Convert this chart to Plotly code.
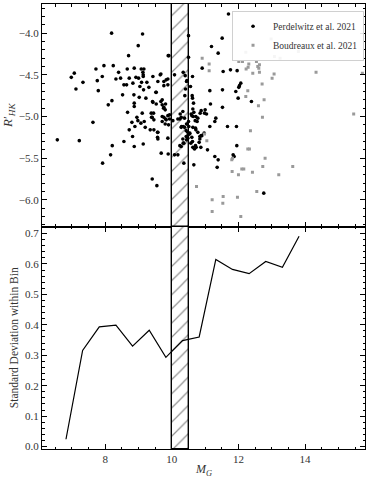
import plotly.graph_objects as go
from plotly.subplots import make_subplots

# Perdelwitz et al. 2021 (black)
perd_mg = [8.19, 9.12, 8.99, 8.70, 9.89, 7.72, 7.96, 8.24, 8.40, 8.66, 8.87, 9.08, 9.16, 9.13, 9.14, 9.14,
           6.98, 7.07, 7.12, 7.33, 7.76, 7.79, 7.91, 8.32, 8.46, 8.56, 8.64, 8.72, 8.92, 9.00, 8.83, 9.04,
           9.15, 9.09, 9.25, 9.31, 9.43, 9.52, 9.67, 9.76, 9.88, 9.76, 9.88,
           8.52, 8.86, 9.02, 9.22, 9.42, 9.71, 9.71, 9.76, 9.81, 8.20, 8.09, 7.63, 8.67, 8.87, 8.87,
           8.72, 8.80, 8.82, 8.89, 8.95, 8.98, 9.07, 9.17, 9.11, 9.20, 9.35, 9.39, 9.45, 9.57, 9.57,
           9.71, 9.71, 9.81, 9.90, 9.88, 8.56, 8.87, 9.14, 8.21, 8.16, 7.92, 9.68, 9.89, 6.56, 7.22,
           9.41, 9.55,
           9.91, 10.50, 10.50, 10.08, 10.34, 10.40, 10.44, 10.56, 10.62, 10.41, 10.39, 10.61, 10.62,
           10.65, 10.45, 10.33, 10.25, 9.93, 10.58, 10.63, 10.66, 10.88, 10.91,
           9.58, 9.65, 9.83, 9.53, 9.43, 9.53, 9.67, 9.75, 9.80, 9.38,
           10.24, 10.29, 10.34, 10.64, 10.70, 10.76, 10.71, 10.44, 10.51, 10.54, 10.49, 10.60, 10.44,
           10.34, 10.24, 10.62, 10.71, 10.84, 10.88, 10.97, 10.87, 11.07, 10.82, 10.36, 10.66,
           10.28, 10.36, 10.33, 10.43, 10.48, 10.53, 10.48, 10.43, 10.38, 10.46, 10.50, 10.28, 10.38,
           10.28, 10.18, 10.03, 9.93, 9.88, 9.83, 9.76, 9.80, 9.41, 9.46, 9.58, 9.46, 9.58,
           10.63, 10.72, 10.78, 10.90, 10.78, 10.72, 10.63, 10.73, 10.57, 10.60, 10.85, 10.98, 10.08,
           10.18, 10.68, 10.84,
           11.04, 11.14, 11.29, 11.32, 11.16, 11.14, 11.00, 11.19, 11.51, 11.39, 11.70, 11.54, 11.76,
           11.96, 12.07, 12.03, 12.01, 11.92, 11.99, 11.52, 11.52, 12.39, 11.67, 11.94, 11.95, 11.84,
           11.87, 11.29, 11.39, 11.36, 12.76]
perd_rhk = [-4.00, -4.01, -4.15, -4.27, -4.27, -4.43, -4.39, -4.39, -4.47, -4.43, -4.42, -4.43, -4.43, -4.47, -4.50, -4.52,
            -4.53, -4.48, -4.67, -4.59, -4.57, -4.69, -4.52, -4.55, -4.54, -4.62, -4.62, -4.54, -4.53, -4.54, -4.60, -4.64,
            -4.68, -4.59, -4.59, -4.65, -4.52, -4.71, -4.49, -4.58, -4.55, -4.63, -4.62,
            -4.74, -4.74, -4.77, -4.78, -4.82, -4.80, -4.86, -4.89, -4.85, -4.81, -4.86, -5.07, -4.95, -4.84, -4.88,
            -5.16, -5.07, -5.24, -5.12, -5.01, -5.05, -5.08, -5.06, -4.96, -5.13, -5.16, -5.01, -4.96, -5.19, -5.25,
            -5.00, -5.06, -5.03, -5.10, -5.26, -5.30, -5.36, -5.33, -5.35, -5.46, -5.56, -5.44, -5.45, -5.28, -5.29,
            -5.75, -5.83,
            -4.27, -4.03, -4.29, -4.50, -4.47, -4.51, -4.58, -4.64, -4.52, -4.67, -4.75, -4.75, -4.78,
            -4.84, -4.57, -4.94, -4.97, -4.98, -4.97, -4.91, -4.95, -4.93, -4.42,
            -4.58, -4.50, -4.56, -4.71, -4.83, -4.85, -4.82, -4.90, -4.92, -4.96,
            -5.03, -5.12, -5.12, -5.00, -5.05, -5.06, -5.14, -5.09, -5.12, -5.20, -5.22, -5.25, -5.28,
            -5.32, -5.35, -5.30, -5.35, -5.27, -5.23, -5.20, -5.37, -5.40, -5.31, -5.56, -5.58,
            -5.36, -5.32, -5.27, -5.24, -5.26, -5.21, -5.19, -5.17, -5.13, -5.09, -5.06, -5.13, -5.02,
            -5.01, -5.03, -5.05, -5.03, -4.99, -5.04, -5.01, -5.09, -5.01, -5.04, -5.19, -5.16, -5.27,
            -5.13, -5.16, -5.19, -5.23, -5.02, -5.00, -5.37, -5.37, -5.32, -4.99, -4.96, -4.96, -5.46,
            -5.46, -5.39, -5.24,
            -4.97, -5.12, -5.06, -5.02, -4.85, -4.69, -4.92, -4.16, -4.06, -4.24, -3.77, -4.46, -4.44,
            -4.45, -4.60, -4.63, -4.65, -4.70, -4.78, -4.68, -4.89, -4.82, -5.12, -5.12, -5.35, -5.46,
            -5.48, -5.48, -5.52, -5.61, -5.92]

# Boudreaux et al. 2021 (grey)
boud_mg = [10.91, 11.12, 11.12, 12.22, 12.01, 12.12, 12.31, 12.29, 12.23, 12.54, 12.63, 12.61, 12.63, 12.58,
           12.43, 13.08, 13.25, 13.80, 13.07, 13.01, 12.71, 14.33, 12.28, 12.22, 12.77, 12.60, 12.72, 15.46,
           12.36, 10.98, 11.05, 12.28, 12.33, 11.82, 11.80, 12.80, 12.73, 13.63, 11.81, 12.10, 12.16, 12.00,
           12.42, 13.21, 11.54, 11.53, 11.21, 11.21, 11.97, 12.55, 12.07, 12.98, 15.72, 10.74]
boud_rhk = [-4.30, -4.37, -4.45, -4.23, -4.34, -4.34, -4.37, -4.41, -4.43, -4.34, -4.38, -4.42, -4.47, -4.40,
            -4.48, -4.28, -4.30, -4.22, -4.49, -4.54, -4.61, -4.47, -4.69, -4.76, -4.80, -4.87, -5.01, -4.97,
            -5.17, -5.21, -5.29, -5.39, -5.39, -5.50, -5.52, -5.50, -5.60, -5.60, -5.66, -5.63, -5.63, -5.70,
            -5.67, -5.70, -5.96, -6.04, -6.00, -6.14, -5.97, -5.90, -6.20, -4.07, -4.48, -5.84]

# Standard deviation within bins
bin_mg = [6.82, 7.32, 7.82, 8.32, 8.82, 9.32, 9.82, 10.32, 10.82, 11.32, 11.82, 12.32, 12.82, 13.32, 13.82]
bin_std = [0.024, 0.316, 0.393, 0.399, 0.330, 0.382, 0.293, 0.348, 0.360, 0.615, 0.582, 0.568, 0.608, 0.589, 0.691]

band_lo, band_hi = 10.0, 10.5
xr = [6.1, 15.8]
y1r = [-6.32, -3.65]
y2r = [-0.008, 0.723]

FONT = "Liberation Serif"

fig = make_subplots(rows=2, cols=1, shared_xaxes=True, vertical_spacing=0.0)

for row, yr in ((1, y1r), (2, y2r)):
    fig.add_trace(go.Bar(
        x=[(band_lo + band_hi) / 2], y=[yr[1] - yr[0]], base=[yr[0]], width=[band_hi - band_lo],
        marker=dict(color="white",
                    pattern=dict(shape="/", fgcolor="#222222", size=10, solidity=0.12),
                    line=dict(color="black", width=1.4)),
        showlegend=False, hoverinfo="skip"), row=row, col=1)

fig.add_trace(go.Scatter(x=perd_mg, y=perd_rhk, mode="markers", name="Perdelwitz et al. 2021",
                         marker=dict(color="black", size=3.6, symbol="circle")), row=1, col=1)
fig.add_trace(go.Scatter(x=boud_mg, y=boud_rhk, mode="markers", name="Boudreaux et al. 2021",
                         marker=dict(color="#9a9a9a", size=3, symbol="square")), row=1, col=1)
fig.add_trace(go.Scatter(x=bin_mg, y=bin_std, mode="lines", showlegend=False,
                         line=dict(color="black", width=1.2)), row=2, col=1)

axis_common = dict(showline=True, linecolor="black", linewidth=1, mirror="allticks",
                   ticks="inside", ticklen=5, tickcolor="black", showgrid=False, zeroline=False,
                   tickfont=dict(family=FONT, size=11, color="#333"))

fig.update_xaxes(**axis_common, range=xr, dtick=2, tick0=0,
                 minor=dict(dtick=0.5, ticks="inside", ticklen=2.5, tickcolor="black"))
fig.update_xaxes(showticklabels=False, row=1, col=1)
fig.update_yaxes(**axis_common)
fig.update_yaxes(range=y1r, dtick=0.5, tick0=0, tickformat=".1f",
                 minor=dict(dtick=0.1, ticks="inside", ticklen=2.5, tickcolor="black"),
                 title=dict(text="<i>R</i>′<sub><i>HK</i></sub>", font=dict(family=FONT, size=13, color="#333"),
                            standoff=6), row=1, col=1)
fig.update_yaxes(range=y2r, dtick=0.1, tick0=0, tickformat=".1f",
                 minor=dict(dtick=0.02, ticks="inside", ticklen=2.5, tickcolor="black"),
                 title=dict(text="Standard Deviation within Bin", font=dict(family=FONT, size=11.5, color="#333"),
                            standoff=4), row=2, col=1)

fig.add_annotation(text="<i>M</i><sub><i>G</i></sub>", xref="paper", yref="paper",
                   x=0.5, y=-0.047, xanchor="center", yanchor="middle", showarrow=False,
                   font=dict(family=FONT, size=12, color="#333"))

fig.update_layout(
    width=374, height=478,
    margin=dict(l=42, r=9, t=4, b=29),
    plot_bgcolor="white", paper_bgcolor="white",
    bargap=0,
    legend=dict(x=0.997, y=0.985, xanchor="right", yanchor="top",
                bgcolor="rgba(255,255,255,0.9)", bordercolor="#d0d0d0", borderwidth=1,
                font=dict(family=FONT, size=9.5, color="#333"),
                tracegroupgap=0, itemwidth=30),
    font=dict(family=FONT),
)

fig.write_html("out.html", config={"displayModeBar": False},
               post_script="document.body.style.margin='0';document.body.style.padding='0';")
